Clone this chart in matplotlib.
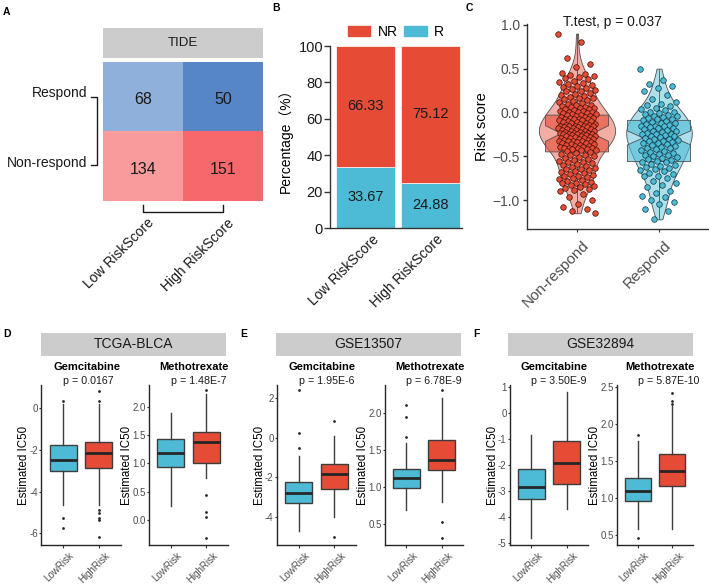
import numpy as np
import matplotlib
matplotlib.use('Agg')
import matplotlib.pyplot as plt
import matplotlib.transforms as mtransforms
from matplotlib.colors import to_rgb, to_rgba
from matplotlib.patches import Patch

plt.rcParams['font.family'] = ['Liberation Sans', 'DejaVu Sans']

W, H = 709, 584

# ---- A: TIDE response counts ----
tide_rows = ['Respond', 'Non-respond']
tide_cols = ['Low RiskScore', 'High RiskScore']
tide_counts = [[68, 50], [134, 151]]
tide_colors = [['#8fb0da', '#5686c5'], ['#f99a9d', '#f6686b']]

# ---- B: percentage of responders ----
groups_b = ['Low RiskScore', 'High RiskScore']
pct_r = [33.67, 24.88]
pct_nr = [66.33, 75.12]

# ---- C: risk score by response ----
groups_c = ['Non-respond', 'Respond']
risk_nonresp = [
    0.90, 0.80, 0.62, 0.55, 0.52, 0.45, 0.44, 0.43, 0.42, 0.40,
    0.39, 0.38, 0.36, 0.35, 0.34, 0.33, 0.31, 0.30, 0.29, 0.28,
    0.27, 0.26, 0.25, 0.24, 0.22, 0.21, 0.20, 0.19, 0.18, 0.17,
    0.16, 0.15, 0.14, 0.13, 0.12, 0.11, 0.10, 0.09, 0.08, 0.07,
    0.06, 0.06, 0.05, 0.05, 0.04, 0.04, 0.03, 0.02, 0.02, 0.01,
    0.00, 0.00, -0.01, -0.01, -0.02, -0.02, -0.03, -0.03, -0.04, -0.04,
    -0.05, -0.05, -0.06, -0.06, -0.07, -0.07, -0.08, -0.08, -0.09, -0.09,
    -0.10, -0.10, -0.11, -0.11, -0.12, -0.12, -0.13, -0.13, -0.14, -0.14,
    -0.15, -0.15, -0.15, -0.16, -0.16, -0.17, -0.17, -0.17, -0.18, -0.18,
    -0.19, -0.19, -0.19, -0.20, -0.20, -0.21, -0.21, -0.21, -0.22, -0.22,
    -0.23, -0.23, -0.23, -0.24, -0.24, -0.24, -0.25, -0.25, -0.26, -0.26,
    -0.27, -0.27, -0.27, -0.28, -0.28, -0.29, -0.29, -0.29, -0.30, -0.30,
    -0.31, -0.31, -0.32, -0.32, -0.33, -0.33, -0.34, -0.34, -0.35, -0.35,
    -0.36, -0.36, -0.37, -0.37, -0.38, -0.38, -0.39, -0.39, -0.40, -0.40,
    -0.41, -0.41, -0.42, -0.42, -0.43, -0.43, -0.44, -0.45, -0.46, -0.47,
    -0.48, -0.49, -0.50, -0.51, -0.52, -0.53, -0.54, -0.55, -0.56, -0.57,
    -0.58, -0.59, -0.60, -0.61, -0.62, -0.63, -0.64, -0.65, -0.66, -0.67,
    -0.68, -0.69, -0.70, -0.71, -0.72, -0.73, -0.74, -0.75, -0.76, -0.77,
    -0.78, -0.79, -0.80, -0.81, -0.82, -0.83, -0.84, -0.85, -0.86, -0.87,
    -0.88, -0.90, -0.93, -0.97, -1.00, -1.05, -1.08, -1.10, -1.12, -1.15,
]
risk_resp = [
    0.50, 0.37, 0.33, 0.30, 0.28, 0.25, 0.20, 0.15, 0.12, 0.10,
    0.09, 0.07, 0.05, 0.04, 0.03, 0.01, 0.00, -0.01, -0.02, -0.03,
    -0.04, -0.04, -0.05, -0.06, -0.07, -0.08, -0.09, -0.10, -0.11, -0.12,
    -0.12, -0.13, -0.14, -0.15, -0.15, -0.16, -0.17, -0.18, -0.18, -0.19,
    -0.20, -0.21, -0.21, -0.22, -0.23, -0.24, -0.24, -0.25, -0.26, -0.27,
    -0.27, -0.28, -0.29, -0.30, -0.30, -0.31, -0.32, -0.33, -0.34, -0.35,
    -0.35, -0.36, -0.37, -0.38, -0.39, -0.40, -0.41, -0.42, -0.43, -0.44,
    -0.45, -0.46, -0.47, -0.48, -0.49, -0.50, -0.51, -0.52, -0.53, -0.54,
    -0.55, -0.56, -0.57, -0.59, -0.60, -0.61, -0.62, -0.63, -0.65, -0.66,
    -0.67, -0.69, -0.70, -0.72, -0.73, -0.75, -0.78, -0.80, -0.83, -0.85,
    -0.90, -0.92, -0.95, -0.97, -1.00, -1.02, -1.05, -1.10, -1.12, -1.22,
]
# min, q1, median, q3, max, notch half-height
c_box_nonresp = [-1.15, -0.45, -0.24, -0.03, 0.90, 0.09]
c_box_resp = [-1.22, -0.56, -0.29, -0.09, 0.50, 0.08]
c_pval = 'T.test, p = 0.037'

# ---- D-F: estimated IC50 (whislo, q1, median, q3, whishi) + outliers ----
risk_groups = ['LowRisk', 'HighRisk']

tcga_gem_low = [-4.63, -3.03, -2.47, -1.75, 0.20]
tcga_gem_low_out = [0.33, -5.25, -5.73]
tcga_gem_high = [-4.63, -2.85, -2.12, -1.60, 0.20]
tcga_gem_high_out = [0.85, 0.33, -4.87, -5.00, -5.25, -5.35, -6.19]
tcga_mtx_low = [0.24, 0.94, 1.19, 1.43, 1.89]
tcga_mtx_low_out = []
tcga_mtx_high = [0.74, 1.00, 1.38, 1.56, 2.22]
tcga_mtx_high_out = [2.29, 0.44, 0.15, 0.05, -0.31]

g135_gem_low = [-4.69, -3.28, -2.77, -2.24, -0.91]
g135_gem_low_out = [-0.54, 0.22, 2.40]
g135_gem_high = [-3.98, -2.57, -1.85, -1.33, 0.10]
g135_gem_high_out = [0.86, -5.03]
g135_mtx_low = [0.68, 0.98, 1.12, 1.24, 1.60]
g135_mtx_low_out = [1.68, 1.94, 2.11]
g135_mtx_high = [0.79, 1.23, 1.36, 1.63, 2.20]
g135_mtx_high_out = [2.31, 0.52, 0.31]

g328_gem_low = [-4.81, -3.32, -2.84, -2.16, -0.87]
g328_gem_low_out = []
g328_gem_high = [-3.69, -2.75, -1.94, -1.09, 0.80]
g328_gem_high_out = []
g328_mtx_low = [0.59, 0.96, 1.10, 1.28, 1.77]
g328_mtx_low_out = [1.85, 0.47]
g328_mtx_high = [0.59, 1.17, 1.37, 1.60, 2.24]
g328_mtx_high_out = [2.28, 2.32, 2.42]

RED = '#e64b35'
BLUE = '#4dbbd5'


def rect(l, t, r, b):
    return [l / W, 1 - b / H, (r - l) / W, (b - t) / H]


fig = plt.figure(figsize=(W / 100, H / 100), dpi=100)


def slant_labels(ax, labels, size, color, pad, length, dx):
    # 45 degree labels hanging from the tick, top-right corner nudged right by dx pixels
    ax.set_xticklabels(labels, rotation=45, ha='right', va='top',
                       rotation_mode='anchor', fontsize=size, color=color)
    ax.tick_params(axis='x', length=length, width=0.8, color='#333333', pad=pad)
    off = mtransforms.ScaledTranslation(dx / 100, 0, fig.dpi_scale_trans)
    for lab in ax.get_xticklabels():
        lab.set_transform(lab.get_transform() + off)


# overlay in pixel coords for panel letters and brackets
ov = fig.add_axes([0, 0, 1, 1])
ov.set_xlim(0, W)
ov.set_ylim(H, 0)
ov.axis('off')
for letter, x, y in [('A', 3, 12), ('B', 272, 8), ('C', 466, 8),
                     ('D', 3, 334), ('E', 240, 334), ('F', 473, 334)]:
    ov.text(x, y, letter, fontsize=7.5, fontweight='bold', va='center', ha='left')

# ================= A =================
ax_h = fig.add_axes(rect(103, 28, 263, 58))
ax_h.set_facecolor('#cccccc')
ax_h.set_xticks([])
ax_h.set_yticks([])
for s in ax_h.spines.values():
    s.set_visible(False)
ax_h.text(0.5, 0.5, 'TIDE', ha='center', va='center', fontsize=9.5, color='#1a1a1a')

ax_a = fig.add_axes(rect(103, 62, 263, 201))
rgb = np.array([[to_rgb(c) for c in row] for row in tide_colors])
ax_a.imshow(rgb, aspect='auto', extent=(-0.5, 1.5, 1.5, -0.5))
for i in range(2):
    for j in range(2):
        ax_a.text(j, i + 0.04, str(tide_counts[i][j]), ha='center', va='center',
                  fontsize=11.5, color='#1a1a1a')
for s in ax_a.spines.values():
    s.set_visible(False)
ax_a.set_yticks([])
ax_a.set_xticks([0, 1])
slant_labels(ax_a, tide_cols, 10, '#1a1a1a', pad=10.8, length=0, dx=4)

for lab, y in zip(tide_rows, [93, 163]):
    ov.text(87, y, lab, ha='right', va='center', fontsize=10, color='#1a1a1a')
ov.plot([91, 97, 97, 91], [97, 97, 165, 165], color='#1a1a1a', lw=1)
ov.plot([143, 143, 223, 223], [205, 212, 212, 205], color='#1a1a1a', lw=1)

# ================= B =================
ax_b = fig.add_axes(rect(330, 46, 462, 228))
xb = np.arange(len(groups_b))
ax_b.bar(xb, pct_r, width=0.91, color=BLUE, edgecolor='white', linewidth=0.5, label='R')
ax_b.bar(xb, pct_nr, bottom=pct_r, width=0.91, color=RED, edgecolor='white',
         linewidth=0.5, label='NR')
for i in range(len(groups_b)):
    ax_b.text(xb[i], pct_r[i] + pct_nr[i] / 2, f'{pct_nr[i]:.2f}', ha='center',
              va='center', fontsize=10.5, color='#1a1a1a')
    ax_b.text(xb[i], pct_r[i] / 2, f'{pct_r[i]:.2f}', ha='center', va='center',
              fontsize=10.5, color='#1a1a1a')
ax_b.set_xlim(-0.546, 1.485)
ax_b.set_ylim(0, 100)
ax_b.set_yticks([0, 20, 40, 60, 80, 100])
ax_b.set_xticks(xb)
ax_b.tick_params(axis='y', length=4, width=1, labelsize=10.5, color='#333333',
                 labelcolor='#1a1a1a', pad=1)
slant_labels(ax_b, groups_b, 10, '#1a1a1a', pad=3.1, length=0, dx=6)
for s in ['top', 'right']:
    ax_b.spines[s].set_visible(False)
for s in ['left', 'bottom']:
    ax_b.spines[s].set_linewidth(1)
    ax_b.spines[s].set_color('#333333')
ax_b.set_ylabel('Percentage（%）', fontsize=10,
                family=['Liberation Sans', 'Noto Sans CJK SC'], labelpad=4)
ax_b.legend(handles=[Patch(color=RED, label='NR'), Patch(color=BLUE, label='R')],
            loc='lower center', bbox_to_anchor=(0.5, 1.0), ncol=2, frameon=False,
            fontsize=10, handlelength=1.6, handleheight=0.75, handletextpad=0.55,
            columnspacing=0.5, borderaxespad=0.1)

# ================= C =================
ax_c = fig.add_axes(rect(527, 24, 709, 229))
vp = ax_c.violinplot([risk_nonresp, risk_resp], positions=[1, 2], widths=[0.93, 0.80],
                     showextrema=False)
for body, col in zip(vp['bodies'], [to_rgba(RED, 0.45), to_rgba(BLUE, 0.45)]):
    body.set_facecolor(col)
    body.set_edgecolor('#505050')
    body.set_linewidth(0.6)
    body.set_alpha(None)
    body.set_zorder(1)
c_stats = []
for name, s in zip(groups_c, [c_box_nonresp, c_box_resp]):
    c_stats.append(dict(label=name, whislo=s[0], q1=s[1], med=s[2], q3=s[3], whishi=s[4],
                        cilo=s[2] - s[5], cihi=s[2] + s[5], fliers=[]))
bpc = ax_c.bxp(c_stats, positions=[1, 2], widths=0.77, shownotches=True, patch_artist=True,
               showcaps=False, showfliers=False, zorder=2,
               boxprops=dict(edgecolor='#505050', linewidth=0.6),
               whiskerprops=dict(color='#505050', linewidth=0.6),
               medianprops=dict(color='#505050', linewidth=0.6))
for patch, col in zip(bpc['boxes'], [to_rgba(RED, 0.6), to_rgba(BLUE, 0.6)]):
    patch.set_facecolor(col)
for pos, vals, fc, ec in [(1, risk_nonresp, RED, '#3a0e08'), (2, risk_resp, BLUE, '#0d3440')]:
    n = len(vals)
    jit = ((np.arange(n) * 0.6180339) % 1 - 0.5) * 0.46
    ax_c.scatter(pos + jit, vals, s=16, facecolor=fc, edgecolor=ec, linewidth=0.5, zorder=3)
ax_c.set_xlim(0.39, 2.61)
ax_c.set_ylim(-1.33, 1.01)
ax_c.set_yticks([-1.0, -0.5, 0.0, 0.5, 1.0])
ax_c.set_yticklabels(['−1.0', '−0.5', '0.0', '0.5', '1.0'])
ax_c.set_xticks([1, 2])
ax_c.tick_params(axis='y', length=3, width=1, color='#333333', labelsize=10,
                 labelcolor='#4d4d4d', pad=2)
slant_labels(ax_c, groups_c, 11, '#4d4d4d', pad=4.8, length=2, dx=5)
for s in ['top', 'right']:
    ax_c.spines[s].set_visible(False)
for s in ['left', 'bottom']:
    ax_c.spines[s].set_linewidth(1)
    ax_c.spines[s].set_color('#333333')
ax_c.set_ylabel('Risk score', fontsize=10.5, labelpad=3)
ax_c.text(0.47, 1.012, c_pval, transform=ax_c.transAxes, ha='center', va='center',
          fontsize=10, color='#1a1a1a')


# ================= D-F =================
def ic50_axes(l, r, low, low_out, high, high_out, ylim, yticks, ylabels, pval, drug):
    ax = fig.add_axes(rect(l, 385, r, 545))
    stats = []
    for name, s, out in zip(risk_groups, [low, high], [low_out, high_out]):
        stats.append(dict(label=name, whislo=s[0], q1=s[1], med=s[2], q3=s[3],
                          whishi=s[4], fliers=out))
    bp = ax.bxp(stats, positions=[1, 2], widths=0.75, patch_artist=True, showcaps=False,
                boxprops=dict(edgecolor='#3d3d3d', linewidth=1.0),
                whiskerprops=dict(color='#3d3d3d', linewidth=1.0),
                medianprops=dict(color='#262626', linewidth=2.0),
                flierprops=dict(marker='o', markersize=2, markerfacecolor='#262626',
                                markeredgecolor='none'))
    for patch, col in zip(bp['boxes'], [BLUE, RED]):
        patch.set_facecolor(col)
    ax.set_xlim(0.4, 2.6)
    ax.set_ylim(*ylim)
    ax.set_yticks(yticks)
    ax.set_yticklabels(ylabels)
    ax.set_xticks([1, 2])
    ax.tick_params(axis='y', length=1.5, width=0.8, color='#333333', labelsize=7,
                   labelcolor='#4d4d4d', pad=1)
    slant_labels(ax, risk_groups, 7, '#4d4d4d', pad=2.1, length=2, dx=6)
    for s in ['top', 'right']:
        ax.spines[s].set_visible(False)
    for s in ['left', 'bottom']:
        ax.spines[s].set_linewidth(1)
        ax.spines[s].set_color('#262626')
    ax.set_ylabel('Estimated IC50', fontsize=8.3, labelpad=-0.5)
    ax.set_title(drug, fontsize=8, fontweight='bold', pad=10.5, x=0.57)
    ax.text(1, 1.005, pval, transform=ax.get_xaxis_transform(), ha='left',
            va='baseline', fontsize=7.7, color='#1a1a1a')
    return ax


def header(l, r, label):
    axh = fig.add_axes(rect(l, 333, r, 356))
    axh.set_facecolor('#cccccc')
    axh.set_xticks([])
    axh.set_yticks([])
    for s in axh.spines.values():
        s.set_visible(False)
    axh.text(0.5, 0.5, label, ha='center', va='center', fontsize=10, color='#1a1a1a')


header(41, 226, 'TCGA-BLCA')
ic50_axes(41.4, 120.6, tcga_gem_low, tcga_gem_low_out, tcga_gem_high, tcga_gem_high_out,
          (-6.56, 1.12), [-6, -4, -2, 0], ['-6', '-4', '-2', '0'], 'p = 0.0167', 'Gemcitabine')
ic50_axes(149, 228, tcga_mtx_low, tcga_mtx_low_out, tcga_mtx_high, tcga_mtx_high_out,
          (-0.44, 2.38), [0, 0.5, 1, 1.5, 2], ['0.0', '0.5', '1.0', '1.5', '2.0'],
          'p = 1.48E-7', 'Methotrexate')

header(276, 461, 'GSE13507')
ic50_axes(277, 356, g135_gem_low, g135_gem_low_out, g135_gem_high, g135_gem_high_out,
          (-5.41, 2.66), [-4, -2, 0, 2], ['-4', '-2', '0', '2'], 'p = 1.95E-6', 'Gemcitabine')
ic50_axes(385, 463, g135_mtx_low, g135_mtx_low_out, g135_mtx_high, g135_mtx_high_out,
          (0.21, 2.38), [0.5, 1, 1.5, 2], ['0.5', '1.0', '1.5', '2.0'],
          'p = 6.78E-9', 'Methotrexate')

header(508, 693, 'GSE32894')
ic50_axes(510, 588, g328_gem_low, g328_gem_low_out, g328_gem_high, g328_gem_high_out,
          (-5.07, 1.06), [-5, -4, -3, -2, -1, 0, 1], ['-5', '-4', '-3', '-2', '-1', '0', '1'],
          'p = 3.50E-9', 'Gemcitabine')
ic50_axes(617, 693, g328_mtx_low, g328_mtx_low_out, g328_mtx_high, g328_mtx_high_out,
          (0.37, 2.53), [0.5, 1, 1.5, 2, 2.5], ['0.5', '1.0', '1.5', '2.0', '2.5'],
          'p = 5.87E-10', 'Methotrexate')

fig.savefig('out.png', dpi=100)
